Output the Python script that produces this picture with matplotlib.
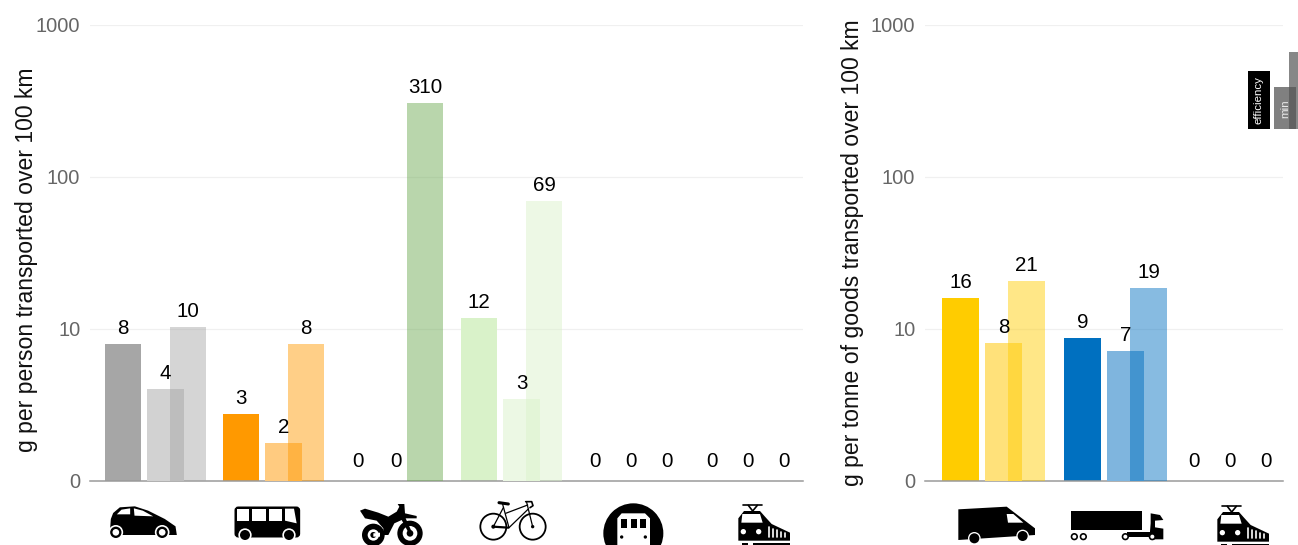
"""Emissions per transport mode, two log panels with pictogram axis."""

import matplotlib
matplotlib.use("Agg")
import matplotlib.pyplot as plt
from matplotlib.patches import Circle, FancyBboxPatch, Polygon, Rectangle

W, H = 1298, 545

# passenger panel: efficiency / min / max per mode
modes = ["car", "bus", "motorbike", "bicycle", "metro", "train"]
person_values = [
    [8.0, 4.05, 10.3],
    [2.75, 1.78, 8.0],
    [0, 0, 309],
    [11.8, 3.45, 69],
    [0, 0, 0],
    [0, 0, 0],
]
person_labels = [
    ["8", "4", "10"],
    ["3", "2", "8"],
    ["0", "0", "310"],
    ["12", "3", "69"],
    ["0", "0", "0"],
    ["0", "0", "0"],
]
person_colors = [
    ["#a6a6a6", "#d2d2d2", "#a6a6a6"],
    ["#ff9900", "#ffcb80", "#ff9900"],
    ["#6aa84f", "#b6d7a8", "#6aa84f"],
    ["#d9f2c9", "#ecf8e4", "#d9f2c9"],
    ["#999999", "#999999", "#999999"],
    ["#999999", "#999999", "#999999"],
]

# freight panel
goods = ["van", "truck", "train"]
goods_values = [
    [16, 8.1, 20.8],
    [8.75, 7.2, 18.7],
    [0, 0, 0],
]
goods_labels = [
    ["16", "8", "21"],
    ["9", "7", "19"],
    ["0", "0", "0"],
]
goods_colors = [
    ["#ffcc00", "#ffe17a", "#ffcc00"],
    ["#0070c0", "#7fb5de", "#0070c0"],
    ["#999999", "#999999", "#999999"],
]

yticks = [1, 10, 100, 1000]
ytick_labels = ["0", "10", "100", "1000"]

plt.rcParams["font.family"] = ["Liberation Sans", "DejaVu Sans"]


def px(v):
    return v * 72 / 100


def panel(left, right, starts, bar_off, bar_w, ylabel, ylabel_x, ylabel_y, values, labels, colors, zero_off):
    ax = fig.add_axes([left / W, (H - 481) / H, (right - left) / W, (481 - 25) / H])
    ax.set_xlim(0, right - left)
    ax.set_ylim(1, 1000)
    ax.set_yscale("log")
    ax.minorticks_off()
    ax.set_yticks(yticks, ytick_labels)
    ax.set_xticks([])
    ax.grid(axis="y", color="#f0f0f0", lw=0.9)
    ax.set_axisbelow(True)
    for s in ["top", "left", "right"]:
        ax.spines[s].set_visible(False)
    ax.spines["bottom"].set_color("#9a9a9a")
    ax.spines["bottom"].set_linewidth(1.1)
    ax.tick_params(axis="y", length=0, pad=7, labelcolor="#666666", labelsize=px(20))
    fig.text(ylabel_x / W, 1 - ylabel_y / H, ylabel, rotation=90, ha="center", va="center",
             fontsize=px(23), color="#111111")

    for g, row in enumerate(values):
        x0 = starts[g]
        for i, v in enumerate(row):
            if v <= 0:
                # empty slots have no bar, just a 0 above the baseline
                ax.text(x0 + zero_off[g][i], 0.022, labels[g][i], ha="center", va="bottom",
                        fontsize=px(20.5), color="#000000", transform=ax.get_xaxis_transform())
                continue
            cx = x0 + bar_off[i]
            alpha = 0.47 if i == 2 else 1.0
            # log axis floor is 1, so the bar runs from 1 up to v
            ax.bar(cx, v - 1, width=bar_w, bottom=1, color=colors[g][i], alpha=alpha, lw=0,
                   zorder=2 + i)
            ax.annotate(labels[g][i], (cx, v), xytext=(0, 6), textcoords="offset pixels",
                        ha="center", va="bottom", fontsize=px(20.5), color="#000000", zorder=9)
    return ax


fig = plt.figure(figsize=(W / 100, H / 100), dpi=100)
panel(90, 803, [15, 133, 252, 371, 487, 605], [18, 60.5, 83], 36.5,
      "g per person transported over 100 km", 27, 259.5,
      person_values, person_labels, person_colors,
      [None, None, [16, 54, 0], None, [18, 54, 90], [17, 53, 89]])
panel(925, 1283, [17, 139, 261], [18.5, 61.5, 84.5], 37,
      "g per tonne of goods transported over 100 km", 853, 253,
      goods_values, goods_labels, goods_colors,
      [None, None, [8, 44, 80]])

# pictograms and mini legend in image pixel coordinates
ov = fig.add_axes([0, 0, 1, 1], zorder=20)
ov.set_xlim(0, W)
ov.set_ylim(H, 0)
ov.axis("off")
ov.patch.set_alpha(0)


def poly(pts, ox, oy, color="black"):
    ov.add_patch(Polygon([(ox + x / 3, oy + y / 3) for x, y in pts], closed=True, fc=color, lw=0))


def disc(x, y, r, ox, oy, color="black"):
    ov.add_patch(Circle((ox + x / 3, oy + y / 3), r / 3, fc=color, lw=0))


def seg(pts, ox, oy, lw=1.0, color="black"):
    ov.plot([ox + p[0] / 3 for p in pts], [oy + p[1] / 3 for p in pts], color=color, lw=lw,
            solid_capstyle="round", solid_joinstyle="round")


def car(ox, oy):
    poly([(25, 102), (28, 60), (35, 42), (55, 25), (100, 22), (140, 35), (190, 60), (222, 82),
          (226, 108), (25, 108)], ox, oy)
    poly([(46, 46), (60, 32), (86, 28), (86, 46)], ox, oy, "white")
    poly([(97, 28), (124, 35), (155, 52), (99, 50)], ox, oy, "white")
    for x in (43, 182):
        disc(x, 100, 22, ox, oy, "white")
        disc(x, 100, 17, ox, oy)
        disc(x, 100, 10, ox, oy, "white")


def bus(ox, oy):
    ov.add_patch(FancyBboxPatch((ox + 436 / 3, oy + 52 / 3), 192 / 3, 88 / 3,
                                boxstyle="round,pad=0,rounding_size=3", fc="black", lw=1.2, ec="black"))
    for a, b in [(442, 478), (487, 527), (537, 577)]:
        poly([(a, 56), (b, 56), (b, 92), (a, 92)], ox, oy, "white")
    poly([(585, 56), (612, 56), (620, 100), (585, 92)], ox, oy, "white")
    for x in (465, 597):
        disc(x, 135, 20, ox, oy, "white")
        disc(x, 135, 15, ox, oy)


def moto(ox, oy):
    disc(55, 105, 34, ox, oy)
    disc(55, 105, 17, ox, oy, "white")
    disc(55, 105, 9, ox, oy)
    poly([(55, 100), (75, 98), (75, 110), (55, 110)], ox, oy, "white")
    disc(165, 100, 38, ox, oy)
    disc(165, 100, 22, ox, oy, "white")
    disc(165, 100, 10, ox, oy)
    poly([(15, 32), (30, 26), (70, 38), (100, 50), (125, 35), (133, 20), (128, 12), (148, 12),
          (150, 40), (185, 48), (185, 55), (152, 55), (170, 95), (160, 97), (140, 60), (118, 70),
          (100, 105), (85, 105), (85, 85), (65, 62), (30, 55)], ox, oy)


def bike(ox, oy):
    for x in (55, 173):
        ov.add_patch(Circle((ox + x / 3, oy + 95 / 3), 39 / 3, fc="none", ec="black", lw=1.3))
    seg([(55, 95), (85, 38)], ox, oy, 0.9)
    seg([(55, 95), (100, 98)], ox, oy, 1.6)
    seg([(83, 28), (102, 98)], ox, oy, 0.9)
    seg([(92, 55), (158, 30)], ox, oy, 0.9)
    seg([(102, 98), (160, 42)], ox, oy, 0.9)
    seg([(155, 22), (173, 95)], ox, oy, 0.9)
    seg([(152, 20), (170, 20), (174, 32), (165, 38)], ox, oy, 1.2)
    seg([(72, 23), (100, 27)], ox, oy, 2.2)
    disc(55, 95, 6, ox, oy)
    disc(173, 95, 5, ox, oy)


def metro(ox, oy):
    disc(100, 115, 90, ox, oy)
    poly([(65, 55), (135, 55), (150, 70), (150, 160), (52, 160), (52, 70)], ox, oy, "white")
    for a in (64, 92, 120):
        poly([(a, 72), (a + 18, 72), (a + 18, 100), (a, 100)], ox, oy)
    disc(65, 126, 5, ox, oy)
    disc(136, 126, 5, ox, oy)


def train(ox, oy):
    seg([(40, 16), (95, 16)], ox, oy, 1.2)
    seg([(55, 16), (68, 33), (82, 16)], ox, oy, 1.2)
    poly([(42, 33), (90, 33), (105, 50), (125, 72), (180, 98), (180, 122), (25, 122), (25, 55)], ox, oy)
    poly([(34, 68), (37, 42), (90, 42), (98, 68)], ox, oy, "white")
    disc(40, 95, 8, ox, oy, "white")
    disc(86, 95, 8, ox, oy, "white")
    for x in (116, 128, 140, 152, 165):
        seg([(x, 82 + (x - 116) * 0.35), (x, 112)], ox, oy, 1.2, "white")
    poly([(35, 129), (55, 129), (55, 134), (35, 134)], ox, oy)
    poly([(70, 129), (180, 129), (180, 134), (70, 134)], ox, oy)


def van(ox, oy):
    poly([(55, 58), (200, 50), (285, 115), (285, 135), (55, 150)], ox, oy)
    poly([(200, 72), (220, 72), (250, 98), (204, 98)], ox, oy, "white")
    for x, y in [(103, 145), (248, 138)]:
        disc(x, y, 19, ox, oy, "white")
        disc(x, y, 15, ox, oy)


def truck(ox, oy):
    poly([(392, 62), (607, 62), (607, 120), (392, 120)], ox, oy)
    poly([(632, 70), (660, 75), (670, 90), (645, 92), (645, 112), (670, 116), (670, 148), (630, 148),
          (630, 124), (632, 100)], ox, oy)
    poly([(560, 127), (650, 127), (650, 142), (560, 142)], ox, oy)
    for x in (403, 430, 556, 637):
        disc(x, 140, 11, ox, oy)
        disc(x, 140, 6, ox, oy, "white")


car(101.5, 499)
bus(90, 490)
moto(355, 500)
bike(475, 495)
metro(600, 495)
train(730, 500)
van(940, 490)
truck(940, 490)
train(1209, 501)

# stray legend swatches at the top right, cut by the image edge
ov.add_patch(Rectangle((1248, 71), 22, 58, fc="black", lw=0))
ov.text(1259, 100, "efficiency", rotation=90, ha="center", va="center", color="white", fontsize=px(11.5))
ov.add_patch(Rectangle((1274, 87), 22, 42, fc="#808080", lw=0))
ov.add_patch(Rectangle((1289, 52), 22, 77, fc="#555555", alpha=0.7, lw=0))
ov.text(1285, 109, "min", rotation=90, ha="center", va="center", color="#e8e8e8", fontsize=px(11.5))

fig.savefig("out.png", dpi=100)
